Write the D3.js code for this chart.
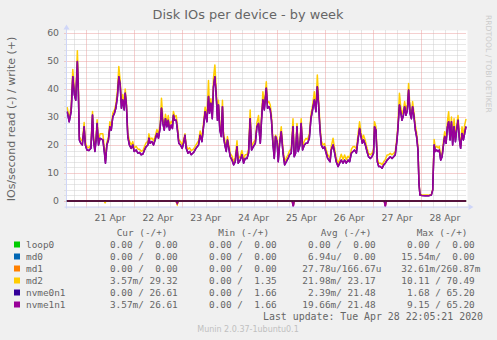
<!DOCTYPE html>
<html><head><meta charset="utf-8">
<script src="https://cdn.jsdelivr.net/npm/d3@7"></script>
<style>html,body{margin:0;padding:0;background:#F0F0F0;}svg{display:block;}</style>
</head><body>
<svg id="c" width="497" height="340"></svg>
<script>
// ---- data ----
const hours = [
-9.5,-8.5,-7.5,-6.7,-5.9,-5.2,-4.4,-3.9,-3.4,-2.7,
-1.9,-1.0,-0.4,0.4,1.4,2.4,3.2,3.7,4.4,5.0,
5.5,6.2,7.0,8.4,9.2,9.7,10.4,11.2,11.9,12.6,
13.4,14.2,14.9,15.7,16.4,17.1,17.7,18.4,19.1,19.6,
20.2,20.9,21.7,22.6,23.4,24.1,25.1,26.0,26.8,27.6,
28.5,29.3,30.1,31.0,31.5,32.1,33.0,33.8,34.6,35.5,
36.3,37.2,37.8,38.5,39.2,39.8,40.5,41.2,41.8,42.7,
43.3,43.8,44.5,45.2,45.8,46.5,47.3,48.2,48.9,49.6,
50.2,51.1,51.9,52.7,53.9,55.1,56.4,57.2,58.1,58.9,
59.7,60.6,61.4,61.9,62.6,63.3,63.9,64.6,65.3,65.9,
66.4,67.1,67.8,68.4,68.9,69.6,70.3,70.9,71.6,72.3,
73.2,74.0,74.8,75.7,76.3,77.3,78.2,79.0,79.8,80.7,
81.5,82.3,83.0,83.9,84.9,85.7,86.5,87.4,88.0,88.7,
89.4,90.4,91.0,91.7,92.4,93.0,93.7,94.4,95.0,95.8,
96.4,97.1,97.9,98.8,99.6,100.4,101.3,102.1,102.9,103.8,
104.4,105.1,105.8,106.4,107.3,107.9,108.6,109.5,110.3,111.1,
112.0,112.8,113.6,114.5,115.3,116.0,116.6,117.3,118.0,118.8,
119.6,120.0,121.2,122.4,123.0,123.9,124.7,125.5,126.4,127.2,
128.0,128.9,129.7,130.5,131.4,132.2,133.1,133.9,134.7,135.6,
136.4,137.2,137.9,138.6,139.2,140.1,140.9,141.7,142.6,143.4,
144.2,144.7,145.4,146.1,146.8,147.6,148.5,149.3,150.1,151.0,
151.8,152.6,153.5,154.3,155.1,156.0,156.5,157.2,157.8,158.5,
159.2,159.8,160.5,161.2,161.8,162.5,163.2,163.8,164.5,165.2,
165.8,166.5,167.0,167.5,168.5,170.2,171.8,173.2,173.9,174.6,
175.2,175.9,176.6,177.2,177.9,178.6,179.3,179.9,180.6,181.3,
181.9,182.6,183.3,183.9,184.6,185.3,185.9,186.6,187.3,187.9,
188.6,189.3,189.9,190.6];

const nvme0n1Write = [
31.9,28.3,32,44.4,37.9,36,49.8,39,21.8,20.6,
20,26.5,20,18.2,18,18.8,30.7,21.8,17.7,21.8,
27.7,20,22.4,21.8,17.1,13.5,20,21.8,26.5,25.3,
30.1,31.3,33.1,37.3,44.4,41.4,33.1,36.1,32.5,38.5,
34.3,23,20,18.8,20,17.7,18.2,17.1,17.3,16.5,
16.8,18.2,19.4,20,22.4,20.6,21.2,20,21.8,24.1,
22.4,26.5,33.1,27.7,25.3,29.4,26.5,28.8,25.3,27.1,
25.9,30.6,28.8,28.8,25.3,20.6,20,18.8,20.6,23.5,
18.8,17.1,17.7,16.5,17.3,18.8,20,23.5,21.2,26.5,
31.9,28.3,37.3,31.3,34.9,29.4,40.8,44.4,37.3,28.8,
34.3,25.3,23,33.7,23,20,17.7,21.8,18.8,15.8,
14.6,12.9,14,19.4,13.5,14.6,16.5,13.5,15.2,15.2,
17.1,29.4,18.2,19.4,20.6,26.5,27.7,20.6,28.8,36.1,
32.5,40.3,33.1,33.7,32.5,28.8,20.6,15.2,23,21.2,
14,20.6,24.7,17.1,12.9,14,15.2,16.5,17.1,26.5,
15.8,17.1,26.5,17.7,20,27.7,18.2,20,20.6,20.6,
22.4,29.4,32.5,36.1,31.9,40.8,34.9,25.9,20,18.8,
19.4,18.2,15.2,14,18.2,20,17.1,14,12.3,13.5,
14.6,13.5,14.6,13.5,14.6,14,17.1,17.7,18.2,17.1,
21.8,25.9,23,20.6,21.8,20,17.7,15.8,15.2,15.8,
17.1,26.5,25.3,14,12.3,12.3,11.7,12.9,13.5,14.6,
15.2,15.8,15.2,15.8,16.5,21.8,26.5,34.3,31.9,28.8,
30.6,33.7,30.6,32.5,39.6,31.3,29.4,33.7,30.1,25.3,
23,18.2,6.3,2.1,2,1.9,1.9,2.1,3.9,20,
17.7,18.2,17.7,18.2,14.6,15.8,20,23,20.6,26.5,
28.3,21.8,28.3,20,26.5,21.2,25.3,28.8,21.8,18.8,
24.1,21.8,24.1,26.6];
// nvme1n1 mirrors nvme0n1 writes (same Cur/Avg/Max in the legend)
const nvme1n1Write = nvme0n1Write.slice();

const md2Write = [
33.5,29.5,34,47,40,37.5,53.7,42,23,22,
21.3,28,21,19.3,19,20,32,23,18.8,23,
29,21.5,24,24,18.5,14.5,21,23,28.3,26.5,
31.5,32.5,34.5,39.5,48,43,35,38,34,40,
35.5,24.5,21.5,20,21.2,19,19.5,18.5,18.5,17.8,
18,19.5,20.8,21.3,24,22,22.5,21.5,23,25.5,
24,28,36.7,29.5,27,31,28,30.5,27,28.5,
27.5,32,30,30.5,27,22,21.3,20,22,24,
20,18.5,19,18,18.5,20,21.5,25,22.5,28,
33.5,30,43,33,36.5,31,44,48.6,39.5,30.5,
36,27,24.5,36,24.5,21.5,19,23,20,17,
16,14,15.5,21.5,15,16,18,15,16.5,16.5,
18.5,32.5,19.5,20.8,22,28,30.5,22,30.5,39,
34,42.6,35,35.5,34.3,30.5,22,16.5,23.5,22.5,
15.3,22,26.5,18.5,14,15.3,16.5,18,18.5,29.4,
17,18.5,27.7,19,21.5,29.4,19.5,21.5,22.4,22,
24,31,34,39,33.5,45,37,27.5,21.5,20,
20.5,19.5,16.5,15.3,19.5,22.4,18.5,15.3,13.5,14.8,
16.7,14.8,16.4,14.8,16,15.3,18.5,19.4,19.5,18.5,
23.5,28.3,24.5,22,23.5,21.5,19,17,16.5,17,
18.5,28.3,26.5,15.3,13.5,13.5,13,14,14.8,16.4,
16.5,17,16.5,17,17.7,23,28,38.5,34,31,
32.5,35.5,32.5,34.5,42,33,31,35.5,31.5,27,
24.5,19.5,6.8,2.3,2.2,2.1,2.1,2.3,4.2,22,
19,19.5,19,19.5,16,17,21.5,24.7,22,28.5,
31.9,23.5,30,21.5,29.4,22.5,27,30.5,23,20,
26.5,23,27,29.3];

// reads (drawn below zero)
const readHours    = [-9.6, 9.0, 9.5, 10.0, 45.1, 45.7, 46.3, 103.4, 103.9, 104.4, 149.6, 150.1, 150.6, 190.6];
const md2Read      = [0, 0, 0.5, 0, 0, 1.2, 0, 0, 1.5, 0, 0, 1.5, 0, 0];
const nvme0n1Read  = [0, 0, 0, 0, 0, 0, 0, 0, 0, 0, 0, 0, 0, 0];
const nvme1n1Read  = [0, 0, 0, 0, 0, 0.9, 0, 0, 2.0, 0, 0, 2.0, 0, 0];

const seriesNames  = ["loop0","md0","md1","md2","nvme0n1","nvme1n1"];
const seriesColors = ["#00CC00","#0066B3","#FF8000","#FFCC00","#330099","#990099"];
const legendHeaders = ["Cur (-/+)","Min (-/+)","Avg (-/+)","Max (-/+)"];
const curText = ["  0.00 /  0.00","  0.00 /  0.00","  0.00 /  0.00","  3.57m/ 29.32","  0.00 / 26.61","  3.57m/ 26.61"];
const minText = ["  0.00 /  0.00","  0.00 /  0.00","  0.00 /  0.00","  0.00 /  1.35","  0.00 /  1.66","  0.00 /  1.66"];
const avgText = ["  0.00 /  0.00","  6.94u/  0.00"," 27.78u/166.67u"," 21.98m/ 23.17","  2.39m/ 21.48"," 19.66m/ 21.48"];
const maxText = ["  0.00 /  0.00"," 15.54m/  0.00"," 32.61m/260.87m"," 10.11 / 70.49","  1.68 / 65.20","  9.15 / 65.20"];
const yTicks = [0,10,20,30,40,50,60];
const titleText = "Disk IOs per device - by week";
const yLabel = "IOs/second read (-) / write (+)";
const lastUpdate = "Last update: Tue Apr 28 22:05:21 2020";
const watermark = "Munin 2.0.37-1ubuntu0.1";
const sideText = "RRDTOOL / TOBI OETIKER";

// ---- drawing ----
const svg = d3.select("#c");
const base = Date.UTC(2020,3,21);
const H = 3600e3;
const toDate = h => new Date(base + h*H);
const x = d3.scaleUtc().domain([toDate(-9.6), toDate(190.6)]).range([67, 466]);
const y = d3.scaleLinear().domain([-2, 60]).range([206.6, 33]);
const L = 66.5, R = 466.5, T = 30.5, B = 206.6;

svg.append("rect").attr("width",497).attr("height",340).attr("fill","#F0F0F0");
svg.append("rect").attr("x",L).attr("y",T).attr("width",R-L+1).attr("height",B-T).attr("fill","#FFFFFF");

const grid = svg.append("g");
// minor horizontal
d3.range(-2, 61, 2).filter(v => v % 10 !== 0 && v > -2).forEach(v => {
  grid.append("line").attr("x1",L-2).attr("x2",R).attr("y1",Math.round(y(v))+0.5).attr("y2",Math.round(y(v))+0.5)
    .attr("stroke","#cfcfcf").attr("stroke-dasharray","1,1");
});
// minor vertical every 6h
x.ticks(d3.utcHour.every(6)).forEach(d => {
  if (d.getUTCHours() === 0) return;
  const px = Math.round(x(d))+0.5;
  grid.append("line").attr("x1",px).attr("x2",px).attr("y1",T).attr("y2",B+2)
    .attr("stroke","#cfcfcf").attr("stroke-dasharray","1,1");
});
// major horizontal
yTicks.forEach(v => {
  grid.append("line").attr("x1",L-2).attr("x2",R).attr("y1",Math.round(y(v))+0.5).attr("y2",Math.round(y(v))+0.5)
    .attr("stroke","#eaa0a0").attr("stroke-dasharray","1,1");
});
// major vertical each day
x.ticks(d3.utcDay.every(1)).forEach(d => {
  const px = Math.round(x(d))+0.5;
  grid.append("line").attr("x1",px).attr("x2",px).attr("y1",T).attr("y2",B+2)
    .attr("stroke","#eaa0a0").attr("stroke-dasharray","1,1");
});

// axes
const axisCol = "#CFD6F8";
svg.append("line").attr("x1",L-2).attr("x2",R+2).attr("y1",B+0.5).attr("y2",B+0.5).attr("stroke",axisCol);
svg.append("line").attr("x1",L).attr("x2",L).attr("y1",B+2).attr("y2",T-2).attr("stroke",axisCol);
svg.append("path").attr("d",`M${R+2},${B-2.5} L${R+7},${B+0.5} L${R+2},${B+3.5} Z`).attr("fill",axisCol);
svg.append("path").attr("d",`M${L-3},${T-1} L${L},${T-6} L${L+3},${T-1} Z`).attr("fill",axisCol);

const font = "DejaVu Sans, sans-serif";
const mono = "DejaVu Sans Mono, monospace";
const fontCol = "#666666";

// y tick labels
yTicks.forEach(v => {
  svg.append("text").attr("x",59).attr("y",y(v)+3.4).attr("text-anchor","end")
    .attr("font-family",font).attr("font-size",9.3).attr("fill",fontCol).text(d3.format("d")(v));
});
// x labels at noon
x.ticks(d3.utcDay.every(1)).forEach(d => {
  const noon = new Date(+d + 12*H);
  if (x(noon) > R) return;
  svg.append("text").attr("x",x(noon)).attr("y",220.7).attr("text-anchor","middle")
    .attr("font-family",font).attr("font-size",9.3).attr("fill",fontCol).text(d3.utcFormat("%d %b")(d));
});

// series
const clip = svg.append("clipPath").attr("id","cp").append("rect")
  .attr("x",L).attr("y",T).attr("width",R-L+1).attr("height",B-T);
const plot = svg.append("g").attr("clip-path","url(#cp)");
const lineW = d3.line().x((d,i)=>x(toDate(hours[i]))).y(d=>y(d));
const lineR = d3.line().x((d,i)=>x(toDate(readHours[i]))).y(d=>y(-d));
const zeroW = hours.map(()=>0);
const writes = [zeroW, zeroW, zeroW, md2Write, nvme0n1Write, nvme1n1Write];
const zeroR = readHours.map(()=>0);
const reads  = [zeroR, zeroR, zeroR, md2Read, nvme0n1Read, nvme1n1Read];
seriesNames.forEach((n,i) => {
  const w = (i >= 3) ? 1.5 : 1;
  plot.append("path").attr("d",lineR(reads[i])).attr("fill","none").attr("stroke",seriesColors[i]).attr("stroke-width",w);
  plot.append("path").attr("d",lineW(writes[i])).attr("fill","none").attr("stroke",seriesColors[i]).attr("stroke-width",w).attr("stroke-linejoin","round");
});
// zero rule
svg.append("line").attr("x1",L).attr("x2",R).attr("y1",y(0)).attr("y2",y(0)).attr("stroke","#000").attr("stroke-width",1);
// redraw read spikes over rule
[3,5].forEach(i => {
  plot.append("path").attr("d",lineR(reads[i])).attr("fill","none").attr("stroke",seriesColors[i]).attr("stroke-width",1.5);
});

// title
svg.append("text").attr("x",248).attr("y",18.7).attr("text-anchor","middle")
  .attr("font-family",font).attr("font-size",12.9).attr("fill","#666666").text(titleText);
// side text
svg.append("text").attr("transform","translate(485.5,15) rotate(90)")
  .attr("font-family",font).attr("font-size",7.6).attr("fill","#cccccc").text(sideText);
// y label
svg.append("text").attr("transform","translate(14.5,119) rotate(-90)").attr("text-anchor","middle")
  .attr("font-family",font).attr("font-size",11).attr("fill",fontCol).text(yLabel);

// legend
const headX = [116.7, 218.3, 320.7, 416.7];
legendHeaders.forEach((h,i) => {
  svg.append("text").attr("x",headX[i]).attr("y",236).attr("font-family",mono).attr("font-size",9.4)
    .attr("fill",fontCol).attr("xml:space","preserve").style("white-space","pre").text(h);
});
const cols = [curText, minText, avgText, maxText];
const colX = [98.7, 197.7, 296.7, 395.7];
seriesNames.forEach((n,i) => {
  const by = 248 + i*12;
  svg.append("rect").attr("x",14).attr("y",by-6.5).attr("width",6).attr("height",6).attr("fill",seriesColors[i]);
  svg.append("text").attr("x",26).attr("y",by).attr("font-family",mono).attr("font-size",9.4).attr("fill",fontCol).text(n);
  cols.forEach((c,j) => {
    svg.append("text").attr("x",colX[j]).attr("y",by).attr("font-family",mono).attr("font-size",9.4)
      .attr("fill",fontCol).attr("xml:space","preserve").style("white-space","pre").text(c[i]);
  });
});
svg.append("text").attr("x",483).attr("y",320).attr("text-anchor","end").attr("font-family",mono)
  .attr("font-size",9.9).attr("fill",fontCol).text(lastUpdate);
svg.append("text").attr("x",248).attr("y",332).attr("text-anchor","middle").attr("font-family",font)
  .attr("font-size",8).attr("fill","#c0c0c0").text(watermark);
</script>
</body></html>
